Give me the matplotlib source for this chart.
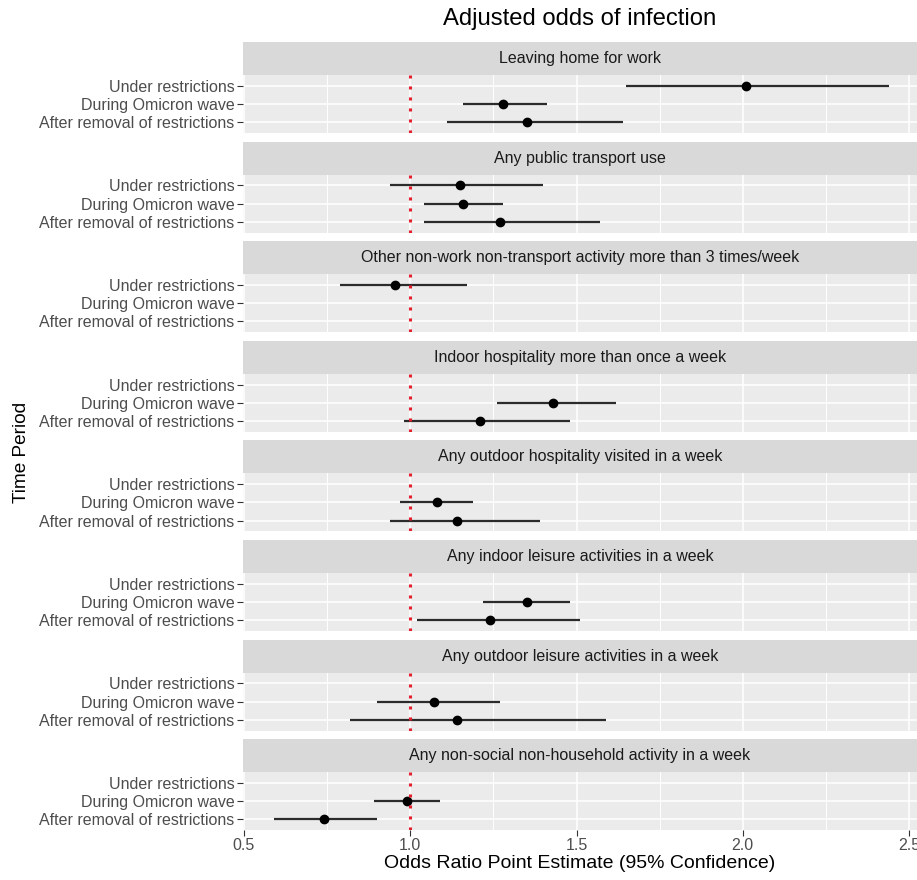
import numpy as np
import matplotlib.pyplot as plt

plt.rcParams['font.family'] = ['Liberation Sans', 'DejaVu Sans']

# 1) data
facets = ["Leaving home for work",
          "Any public transport use",
          "Other non-work non-transport activity more than 3 times/week",
          "Indoor hospitality more than once a week",
          "Any outdoor hospitality visited in a week",
          "Any indoor leisure activities in a week",
          "Any outdoor leisure activities in a week",
          "Any non-social non-household activity in a week"]
periods = ["Under restrictions", "During Omicron wave", "After removal of restrictions"]
nan = np.nan
est = [[2.01, 1.28, 1.35], [1.15, 1.16, 1.27], [0.955, nan, nan], [nan, 1.43, 1.21],
       [nan, 1.08, 1.14], [nan, 1.35, 1.24], [nan, 1.07, 1.14], [nan, 0.99, 0.74]]
lo = [[1.65, 1.16, 1.11], [0.94, 1.04, 1.04], [0.79, nan, nan], [nan, 1.26, 0.98],
      [nan, 0.97, 0.94], [nan, 1.22, 1.02], [nan, 0.90, 0.82], [nan, 0.89, 0.59]]
hi = [[2.44, 1.41, 1.64], [1.40, 1.28, 1.57], [1.17, nan, nan], [nan, 1.62, 1.48],
      [nan, 1.19, 1.39], [nan, 1.48, 1.51], [nan, 1.27, 1.59], [nan, 1.09, 0.90]]
xticks = [0.5, 1.0, 1.5, 2.0, 2.5]
xticklabels = ["0.5", "1.0", "1.5", "2.0", "2.5"]
xminor = [0.75, 1.25, 1.75, 2.25]

# 2) layout in pixels
W, H = 917, 880
fig = plt.figure(figsize=(W / 100, H / 100), dpi=100)

def box(l, t, w, h):
    return [l / W, 1 - (t + h) / H, w / W, h / H]

y = np.arange(len(periods))
for i, name in enumerate(facets):
    top = 75 + 99.6 * i
    ax = fig.add_axes(box(243, top, 674, 58))
    sax = fig.add_axes(box(243, top - 33, 674, 33))

    ax.set_facecolor('#EBEBEB')
    ax.set_xlim(0.497, 2.524)
    ax.set_ylim(2.6, -0.6)
    ax.set_xticks(xticks)
    ax.set_xticks(xminor, minor=True)
    ax.set_yticks(y)
    ax.set_yticklabels(periods)
    ax.grid(which='major', color='white', lw=1.1)
    ax.grid(which='minor', axis='x', color='white', lw=0.7)
    ax.set_axisbelow(True)
    for s in ax.spines.values():
        s.set_visible(False)
    ax.tick_params(which='both', length=0)
    ax.tick_params(axis='y', length=4, color='#333333', labelcolor='#4D4D4D', labelsize=11.5, pad=2)
    if i == len(facets) - 1:
        ax.tick_params(axis='x', length=4, color='#333333', labelcolor='#4D4D4D', labelsize=11.5, pad=1.5)
        ax.set_xticklabels(xticklabels)
    else:
        ax.tick_params(axis='x', labelbottom=False)

    ax.hlines(y, lo[i], hi[i], color='#2B2B2B', lw=1.6, zorder=3)
    ax.plot(est[i], y, 'o', color='black', ms=6, zorder=4)
    ax.axvline(1.0, color='#E5202E', ls=(0, (1, 2.6)), lw=2.2, zorder=5)

    sax.set_facecolor('#D9D9D9')
    sax.set_xticks([]); sax.set_yticks([])
    for s in sax.spines.values():
        s.set_visible(False)
    sax.text(0.5, 0.5, name, ha='center', va='center', transform=sax.transAxes,
             fontsize=11.5, color='#1A1A1A')

# 3) labels
fig.text(580 / W, 1 - 19 / H, "Adjusted odds of infection", ha='center', va='center', fontsize=17.2)
fig.text(580 / W, 1 - 868 / H, "Odds Ratio Point Estimate (95% Confidence)", ha='center', va='baseline', fontsize=14)
fig.text(22 / W, 1 - 452 / H, "Time Period", ha='center', va='center', rotation=90, fontsize=13.7)

fig.savefig("out.png", dpi=100)
